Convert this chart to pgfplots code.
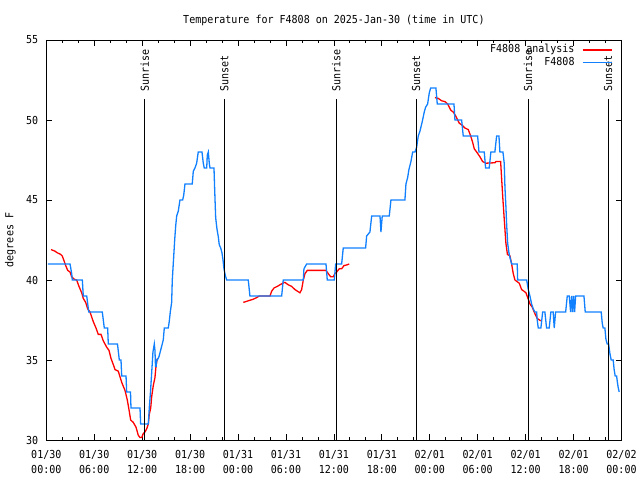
\documentclass[border=0pt]{standalone}
\usepackage{fontspec}
\setmainfont{DejaVu Sans Mono}[FakeStretch=0.91]
\usepackage{pgfplots}
\pgfplotsset{compat=1.18}
\definecolor{obsblue}{RGB}{16,128,255}
\newcommand{\tf}{\fontsize{11bp}{12bp}\selectfont}
\begin{document}
\tf
\begin{tikzpicture}
\useasboundingbox (0,0) rectangle (640bp,480bp);
\begin{axis}[
  at={(46.3bp,40bp)}, anchor=south west,
  scale only axis, width=575.2bp, height=400bp,
  xmin=0, xmax=72, ymin=30, ymax=55,
  xtick={0,6,...,72},
  xticklabels={{01/30\\00:00},{01/30\\06:00},{01/30\\12:00},{01/30\\18:00},{01/31\\00:00},{01/31\\06:00},{01/31\\12:00},{01/31\\18:00},{02/01\\00:00},{02/01\\06:00},{02/01\\12:00},{02/01\\18:00},{02/02\\00:00}},
  minor x tick num=2,
  ytick={30,35,...,55},
  tick align=inside,
  major tick length=6bp, minor tick length=3bp,
  every tick/.style={black, line width=0.8bp},
  axis line style={line width=0.8bp},
  /pgf/number format/assume math mode=true,
  xticklabel style={align=center, font=\fontsize{11bp}{15bp}\selectfont, inner sep=0pt, anchor=north, yshift=-10bp},
  yticklabel style={font=\tf, inner sep=0pt, anchor=east, xshift=-8bp},
  every axis title shift=0pt,
  title={Temperature for F4808 on 2025-Jan-30 (time in UTC)},
  title style={at={(axis description cs:0.5,1.05)}, anchor=center, font=\tf},
  ylabel={degrees F},
  ylabel style={at={(axis description cs:-0.0626,0.5)}, anchor=center, font=\tf},
  legend style={draw=none, fill=none, at={(0.9844,0.989)}, anchor=north east, font=\tf, row sep=1.5bp, column sep=7bp, inner sep=0pt, nodes={inner sep=0.5bp, text height=7.5bp, text depth=2.5bp}},
  legend cell align=right, legend plot pos=right,
  legend image code/.code={\draw[#1] (0bp,0bp) -- (29bp,0bp);},
]
% analysis (red)
\addplot[red, line width=1.3bp] coordinates {
(0.59,41.9) (1.09,41.8) (1.38,41.7) (1.8,41.6) (2.0,41.5) (2.22,41.2) (2.43,40.9) (2.68,40.6) (2.97,40.5) (3.18,40.2) (3.5,40.05) (3.8,40) (4.09,39.6) (4.43,39.2) (4.63,38.85) (4.93,38.6) (5.18,38.2) (5.47,38) (5.88,37.4) (6.22,37) (6.51,36.6) (6.85,36.6) (7.13,36.2) (7.56,35.8) (7.85,35.6) (8.1,35.1) (8.47,34.6) (8.6,34.4) (9.01,34.3) (9.44,33.6) (9.85,33.1) (10.14,32.5) (10.35,31.9) (10.56,31.25) (10.89,31.1) (11.23,30.8) (11.51,30.3) (11.73,30.15) (11.94,30.15) (12.14,30.4) (12.35,30.5) (12.57,30.7) (12.77,31.0) (12.89,31.6) (13.07,32) (13.19,32.7) (13.39,33.4) (13.6,33.9) (13.73,34.6) (13.89,35.1)
};
\addlegendentry{F4808 analysis}
\addplot[red, line width=1.3bp, forget plot] coordinates {
(24.66,38.6) (25.28,38.7) (25.91,38.8) (26.33,38.9) (26.66,39.0) (28.0,39.0) (28.21,39.3) (28.5,39.5) (28.91,39.6) (29.25,39.7) (29.59,39.8) (29.87,39.85) (30.29,39.7) (30.71,39.6) (31.13,39.4) (31.75,39.2) (31.96,39.4) (32.17,40) (32.38,40.4) (32.67,40.6) (35.01,40.6) (35.29,40.4) (35.6,40.2) (35.92,40.2) (36.13,40.4) (36.35,40.5) (36.67,40.7) (36.97,40.7) (37.26,40.9) (37.6,40.94) (37.92,41)
};
\addplot[red, line width=1.3bp, forget plot] coordinates {
(48.65,51.4) (49.06,51.35) (49.49,51.2) (49.9,51.15) (50.24,51.0) (50.44,50.8) (50.65,50.6) (50.94,50.5) (51.19,50.3) (51.49,50.0) (51.69,49.8) (51.99,49.7) (52.4,49.5) (52.82,49.4) (53.12,49.0) (53.37,48.6) (53.57,48.2) (53.87,48.0) (54.28,47.7) (54.62,47.4) (55.03,47.3) (56.16,47.33) (56.28,47.4) (56.87,47.4) (57.0,46.3) (57.16,45.0) (57.35,43.6) (57.53,42.3) (57.72,41.6) (58.04,41.5) (58.25,41.0) (58.45,40.4) (58.66,40.0) (59.2,39.8) (59.5,39.4) (59.79,39.3) (60.04,39.2) (60.33,38.8) (60.54,38.5) (60.83,38.3) (61.16,37.9) (61.45,37.6) (61.88,37.45)
};
% observations (blue)
\addplot[obsblue, line width=1.3bp] coordinates {
(0.21,41) (2.97,41) (3.18,40.4) (3.25,40) (4.51,40) (4.63,39) (5.06,39) (5.31,38) (7.01,38) (7.26,37) (7.68,37) (7.76,36) (8.91,36) (9.14,35) (9.35,35) (9.44,34) (9.98,34) (10.06,33) (10.54,33) (10.6,32) (11.73,32) (11.81,31) (12.77,31) (12.89,32) (13.04,33) (13.19,34.2) (13.35,35.5) (13.52,36) (13.6,35.6) (13.67,34.6) (13.75,34.6) (13.82,35) (13.89,35) (14.1,35.2) (14.36,35.7) (14.64,36.25) (14.77,37) (15.27,37) (15.39,37.4) (15.52,38) (15.69,38.6) (15.77,40) (15.94,41.4) (16.07,42.5) (16.2,43.4) (16.32,44) (16.52,44.3) (16.73,45) (17.07,45) (17.2,45.3) (17.36,46) (18.27,46) (18.4,46.8) (18.61,47) (18.82,47.3) (19.02,48) (19.49,48) (19.65,47.3) (19.77,47) (20.08,47) (20.15,47.8) (20.28,48) (20.4,47.3) (20.49,47) (20.99,47) (21.08,45.6) (21.2,43.9) (21.36,43.2) (21.53,42.7) (21.65,42.2) (21.83,42) (21.99,41.7) (22.12,41.25) (22.24,40.7) (22.4,40.3) (22.58,40) (25.28,40) (25.49,39) (29.46,39) (29.66,40) (32.17,40) (32.25,40.7) (32.59,41) (35.01,41) (35.17,40) (36.05,40) (36.22,41) (36.97,41) (37.17,42) (39.97,42) (40.1,42.75) (40.51,43) (40.73,44) (41.77,44) (41.89,43) (42.05,44) (42.93,44) (43.14,45) (44.89,45) (45.02,46) (45.23,46.4) (45.39,46.9) (45.64,47.4) (45.86,48) (46.15,48) (46.36,48.3) (46.56,49) (46.77,49.3) (47.06,49.9) (47.31,50.5) (47.48,50.8) (47.73,51) (47.94,51.7) (48.11,52) (48.77,52) (48.94,51) (51.03,51) (51.15,50) (51.99,50) (52.19,49) (53.99,49) (54.16,48) (54.82,48) (54.99,47) (55.44,47) (55.65,48) (56.15,48) (56.37,49) (56.66,49) (56.78,48) (57.16,48) (57.32,47.3) (57.41,45.8) (57.53,44.6) (57.62,43.5) (57.75,42.3) (57.91,41.7) (58.04,41.4) (58.25,41) (58.95,41) (59.0,40) (60.13,40) (60.33,39.4) (60.54,39) (60.75,38.5) (60.95,38.2) (61.16,38) (61.38,38) (61.45,37.5) (61.58,37) (61.91,37) (62.13,38) (62.41,38) (62.62,37) (62.95,37) (63.16,38) (63.45,38) (63.58,37) (63.75,38) (65.01,38) (65.21,39) (65.46,39) (65.63,38) (65.76,39) (65.88,38) (66.01,39) (66.13,38) (66.26,39) (67.3,39) (67.46,38) (69.46,38) (69.59,37.3) (69.71,37) (69.92,37) (70.05,36.3) (70.21,36) (70.39,36) (70.55,35.4) (70.71,35) (70.96,35) (71.08,34.4) (71.21,34) (71.39,34) (71.46,33.7) (71.58,33.3) (71.71,33)
};
\addlegendentry{F4808}
% sunrise / sunset markers
\addplot[black, line width=0.8bp, forget plot] coordinates {(12.33,30) (12.33,51.3)};
\addplot[black, line width=0.8bp, forget plot] coordinates {(22.28,30) (22.28,51.3)};
\addplot[black, line width=0.8bp, forget plot] coordinates {(36.31,30) (36.31,51.3)};
\addplot[black, line width=0.8bp, forget plot] coordinates {(46.3,30) (46.3,51.3)};
\addplot[black, line width=0.8bp, forget plot] coordinates {(60.3,30) (60.3,51.3)};
\addplot[black, line width=0.8bp, forget plot] coordinates {(70.32,30) (70.32,51.3)};
\node[rotate=90, anchor=west, inner sep=0pt, font=\tf] at (axis cs:12.33,51.75) {Sunrise};
\node[rotate=90, anchor=west, inner sep=0pt, font=\tf] at (axis cs:22.28,51.75) {Sunset};
\node[rotate=90, anchor=west, inner sep=0pt, font=\tf] at (axis cs:36.31,51.75) {Sunrise};
\node[rotate=90, anchor=west, inner sep=0pt, font=\tf] at (axis cs:46.3,51.75) {Sunset};
\node[rotate=90, anchor=west, inner sep=0pt, font=\tf] at (axis cs:60.3,51.75) {Sunrise};
\node[rotate=90, anchor=west, inner sep=0pt, font=\tf] at (axis cs:70.32,51.75) {Sunset};
\end{axis}
\end{tikzpicture}
\end{document}
